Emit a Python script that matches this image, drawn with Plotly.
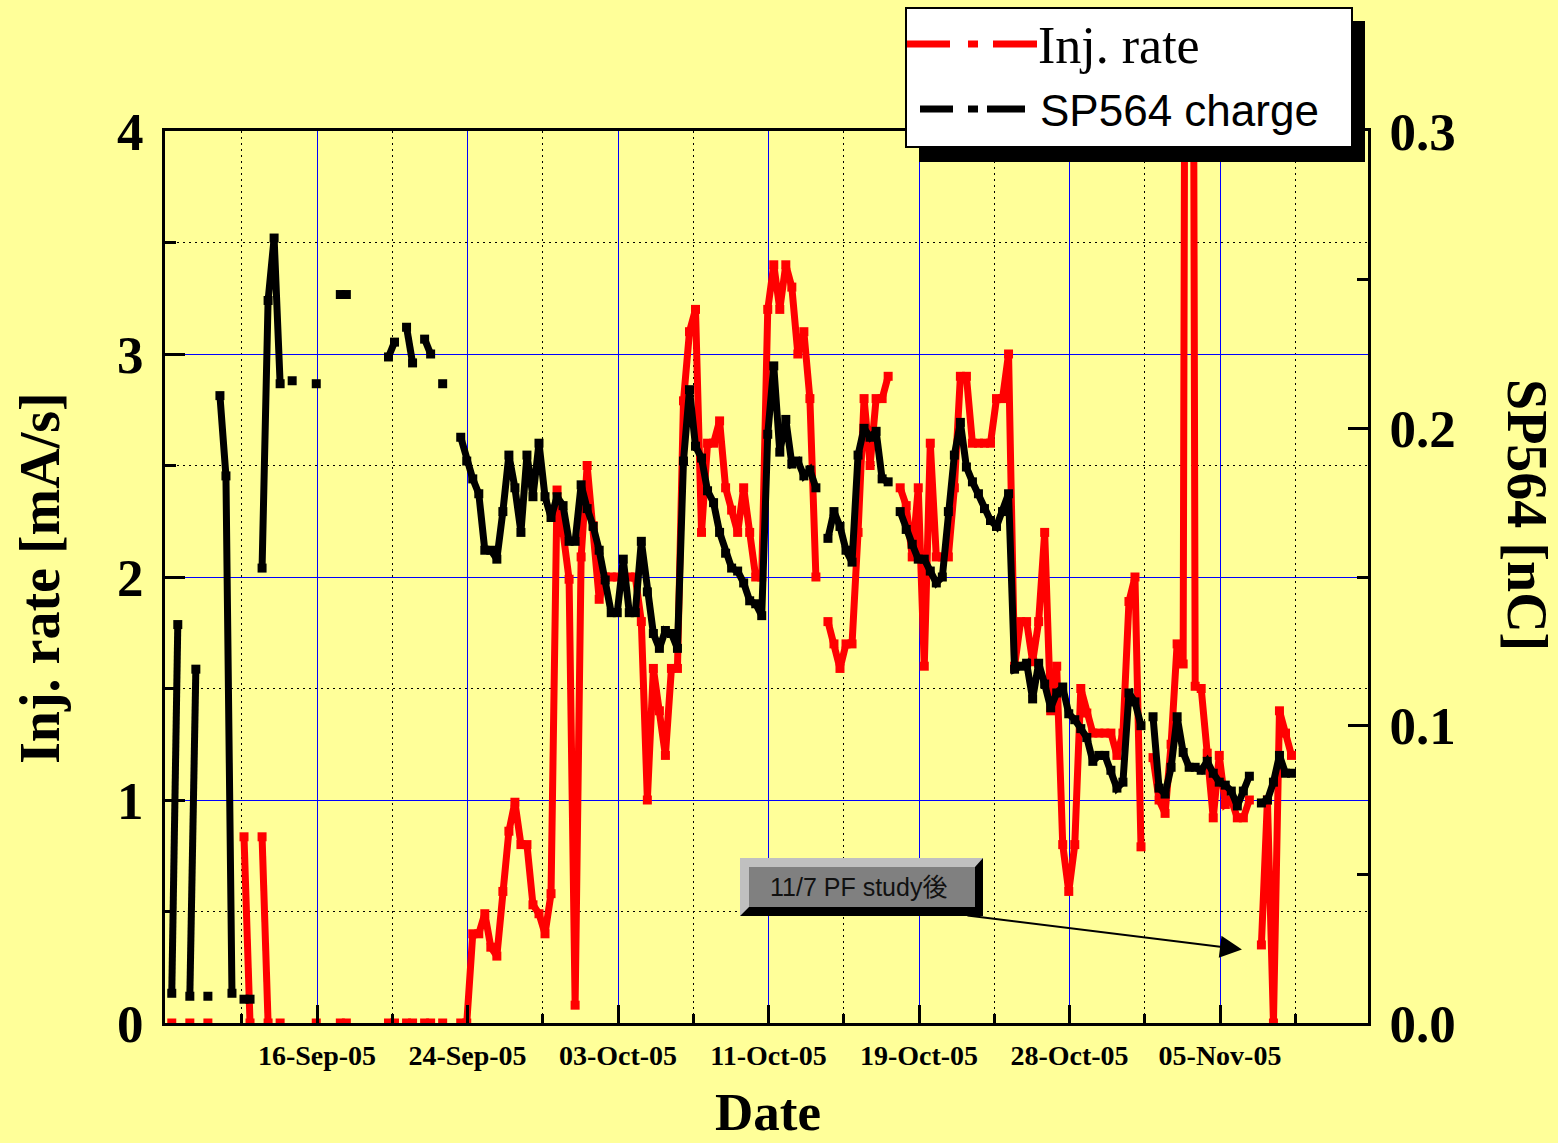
import pandas as pd
import plotly.graph_objects as go

N = None
# sampling times of the shift-by-shift log (every 8 h)
shift_times = pd.date_range("2005-09-08 00:00", periods=188, freq="8h")

# Injection rate [mA/s]
inj_rate = [
    N, 0, N, N, 0, N, N, 0, N, N, N, N,
    N, 0.835, 0, N, 0.835, 0, N, 0, N, N, N, N,
    N, 0, N, N, N, 0, 0, N, N, N, N, N,
    N, 0, 0, N, 0, 0, N, 0, 0, N, 0, N,
    N, 0, 0, 0.40, 0.40, 0.49, 0.34, 0.30, 0.59, 0.86, 0.99, 0.80,
    0.80, 0.53, 0.49, 0.40, 0.58, 2.39, 2.20, 1.99, 0.08, 2.09, 2.50, 2.23,
    1.90, 2.0, 2.0, 2.0, 2.0, 2.0, 2.0, 1.80, 1.0, 1.59, 1.40, 1.20,
    1.59, 1.59, 2.79, 3.10, 3.20, 2.20, 2.60, 2.60, 2.70, 2.40, 2.30, 2.20,
    2.40, 2.20, 2.0, 2.0, 3.20, 3.40, 3.20, 3.40, 3.30, 3.0, 3.10, 2.80,
    2.0, N, 1.80, 1.70, 1.59, 1.70, 1.70, 2.20, 2.80, 2.50, 2.80, 2.80,
    2.90, N, 2.40, 2.32, 2.09, 2.40, 1.60, 2.60, 2.09, 2.09, 2.09, 2.40,
    2.90, 2.90, 2.60, 2.60, 2.60, 2.60, 2.80, 2.80, 3.0, 1.60, 1.80, 1.80,
    1.62, 1.80, 2.20, 1.40, 1.60, 0.80, 0.59, 0.80, 1.50, 1.39, 1.30, 1.30,
    1.30, 1.30, 1.20, 1.30, 1.89, 2.0, 0.79, N, 1.19, 1.0, 0.94, 1.25,
    1.70, 1.61, 12.0, 1.51, 1.50, 1.21, 0.92, 1.20, 0.98, 1.0, 0.92, 0.92,
    1.0, N, 0.35, 1.0, 0.0, 1.40, 1.30, 1.20,
]

# SP564 charge [nC]
sp564_charge = [
    N, 0.010, 0.134, N, 0.009, 0.119, N, 0.009, N, 0.211, 0.184, 0.010,
    N, 0.008, 0.008, N, 0.153, 0.243, 0.264, 0.215, N, 0.216, N, N,
    N, 0.215, N, N, N, 0.245, 0.245, N, N, N, N, N,
    N, 0.224, 0.229, N, 0.234, 0.222, N, 0.230, 0.225, N, 0.215, N,
    N, 0.197, 0.189, 0.183, 0.178, 0.159, 0.159, 0.156, 0.172, 0.191, 0.180, 0.165,
    0.191, 0.177, 0.195, 0.177, 0.170, 0.177, 0.174, 0.162, 0.162, 0.181, 0.173, 0.167,
    0.159, 0.149, 0.138, 0.138, 0.156, 0.138, 0.138, 0.162, 0.145, 0.131, 0.126, 0.132,
    0.131, 0.126, 0.189, 0.213, 0.194, 0.190, 0.179, 0.175, 0.165, 0.158, 0.153, 0.152,
    0.148, 0.142, 0.141, 0.137, 0.198, 0.221, 0.192, 0.203, 0.188, 0.189, 0.184, 0.186,
    0.180, N, 0.163, 0.172, 0.167, 0.159, 0.155, 0.191, 0.200, 0.197, 0.199, 0.183,
    0.182, N, 0.172, 0.166, 0.161, 0.156, 0.156, 0.152, 0.148, 0.150, 0.172, 0.191,
    0.202, 0.187, 0.182, 0.178, 0.173, 0.169, 0.167, 0.172, 0.178, 0.119, 0.120, 0.121,
    0.109, 0.121, 0.114, 0.106, 0.111, 0.113, 0.104, 0.102, 0.099, 0.096, 0.088, 0.090,
    0.090, 0.085, 0.079, 0.081, 0.111, 0.108, 0.100, N, 0.103, 0.079, 0.077, 0.086,
    0.103, 0.091, 0.086, 0.086, 0.085, 0.088, 0.084, 0.081, 0.080, 0.078, 0.073, 0.078,
    0.083, N, 0.074, 0.075, 0.081, 0.090, 0.084, 0.084,
]

date_tick_vals = ["2005-09-16 09:00", "2005-09-24 17:00", "2005-10-03 01:00",
                  "2005-10-11 09:00", "2005-10-19 17:00", "2005-10-28 01:00",
                  "2005-11-05 09:00"]
date_tick_text = ["16-Sep-05", "24-Sep-05", "03-Oct-05", "11-Oct-05",
                  "19-Oct-05", "28-Oct-05", "05-Nov-05"]
date_minor_vals = ["2005-09-12 05:00", "2005-09-20 13:00", "2005-09-28 21:00",
                   "2005-10-07 05:00", "2005-10-15 13:00", "2005-10-23 21:00",
                   "2005-11-01 05:00", "2005-11-09 13:00"]
inj_ticks = [0, 1, 2, 3, 4]
sp_ticks = [0.0, 0.1, 0.2, 0.3]

series_names = ["Inj. rate", "SP564 charge"]
note_text = "11/7 PF study後"
note_point = ("2005-11-06 14:10", 0.33)

BG = "#FFFF99"
W, H = 1558, 1143
L, R, T, B = 165, 1368, 131, 1023


def xp(px):
    return (px - L) / (R - L)


def yp(py):
    return (B - py) / (B - T)


fig = go.Figure()
fig.add_trace(go.Scatter(
    x=shift_times, y=inj_rate, name=series_names[0], mode="lines+markers",
    line=dict(color="#FF0000", width=7), connectgaps=False,
    marker=dict(symbol="square", size=9, color="#FF0000"), yaxis="y",
))
fig.add_trace(go.Scatter(
    x=shift_times, y=sp564_charge, name=series_names[1], mode="lines+markers",
    line=dict(color="#000000", width=7), connectgaps=False,
    marker=dict(symbol="square", size=9, color="#000000"), yaxis="y2",
))

tick_font_big = dict(family="Liberation Serif", size=53, color="black", weight="bold")

fig.update_layout(
    width=W, height=H,
    margin=dict(l=L, r=W - R, t=T, b=H - B, pad=0),
    paper_bgcolor=BG, plot_bgcolor=BG,
    showlegend=False,
    font=dict(family="Liberation Serif", color="black"),
    xaxis=dict(
        type="date", range=["2005-09-07 23:00", "2005-11-13 13:40"],
        tickmode="array", tickvals=date_tick_vals, ticktext=date_tick_text,
        tickangle=0, ticks="inside", ticklen=18, tickwidth=3, tickcolor="black",
        showgrid=True, gridcolor="#0000FF", gridwidth=1,
        minor=dict(tickmode="array", tickvals=date_minor_vals, ticks="inside",
                   ticklen=9, tickwidth=3, tickcolor="black", showgrid=True,
                   gridcolor="black", gridwidth=1, griddash="2px,4px"),
        showline=True, linecolor="black", linewidth=3, mirror=True,
        zeroline=False, ticklabelstandoff=5,
        tickfont=dict(family="Liberation Serif", size=28, color="black", weight="bold"),
    ),
    yaxis=dict(
        range=[0, 4], tickmode="array", tickvals=inj_ticks,
        ticks="inside", ticklen=20, tickwidth=3, tickcolor="black",
        showgrid=True, gridcolor="#0000FF", gridwidth=1,
        minor=dict(dtick=0.5, tick0=0, ticks="inside", ticklen=11, tickwidth=3,
                   tickcolor="black", showgrid=True, gridcolor="black",
                   gridwidth=1, griddash="2px,4px"),
        showline=True, linecolor="black", linewidth=3, zeroline=False,
        tickfont=tick_font_big, ticklabelstandoff=8,
    ),
    yaxis2=dict(
        overlaying="y", side="right", range=[0, 0.3], tickmode="array",
        tickvals=sp_ticks, tickformat=".1f",
        ticks="inside", ticklen=20, tickwidth=3, tickcolor="black",
        showgrid=False, zeroline=False,
        minor=dict(dtick=0.05, tick0=0, ticks="inside", ticklen=11, tickwidth=3,
                   tickcolor="black", showgrid=False),
        showline=True, linecolor="black", linewidth=3,
        tickfont=tick_font_big, ticklabelstandoff=8,
    ),
)

shapes = []
# legend box with drop shadow
shapes.append(dict(type="rect", xref="paper", yref="paper",
                   x0=xp(919), x1=xp(1365), y0=yp(162), y1=yp(21),
                   fillcolor="black", line=dict(width=0)))
shapes.append(dict(type="rect", xref="paper", yref="paper",
                   x0=xp(906), x1=xp(1352), y0=yp(147), y1=yp(8),
                   fillcolor="white", line=dict(color="black", width=2)))
for (a, b) in [(907, 950), (968, 978), (993, 1037)]:
    shapes.append(dict(type="line", xref="paper", yref="paper",
                       x0=xp(a), x1=xp(b), y0=yp(44), y1=yp(44),
                       line=dict(color="#FF0000", width=7)))
for (a, b) in [(920, 953), (968, 978), (987, 1025)]:
    shapes.append(dict(type="line", xref="paper", yref="paper",
                       x0=xp(a), x1=xp(b), y0=yp(109), y1=yp(109),
                       line=dict(color="black", width=7)))
# bevelled note box
shapes.append(dict(type="rect", xref="paper", yref="paper",
                   x0=xp(740), x1=xp(983), y0=yp(916), y1=yp(858),
                   fillcolor="black", line=dict(width=0)))
bevel = "M {},{} L {},{} L {},{} L {},{} L {},{} L {},{} Z".format(
    xp(740), yp(858), xp(983), yp(858), xp(975), yp(867),
    xp(749), yp(867), xp(749), yp(907), xp(740), yp(916))
shapes.append(dict(type="path", xref="paper", yref="paper", path=bevel,
                   fillcolor="#C0C0C0", line=dict(width=0)))
shapes.append(dict(type="rect", xref="paper", yref="paper",
                   x0=xp(749), x1=xp(975), y0=yp(907), y1=yp(867),
                   fillcolor="#808080", line=dict(width=0)))
fig.update_layout(shapes=shapes)

ann = []
ann.append(dict(xref="paper", yref="paper", x=xp(1036), y=yp(46),
                xanchor="left", yanchor="middle", showarrow=False,
                text=series_names[0],
                font=dict(family="Liberation Serif", size=52, color="black")))
ann.append(dict(xref="paper", yref="paper", x=xp(1038), y=yp(110),
                xanchor="left", yanchor="middle", showarrow=False,
                text=series_names[1],
                font=dict(family="Liberation Sans", size=44, color="black")))
ann.append(dict(xref="paper", yref="paper", x=xp(858), y=yp(887),
                xanchor="center", yanchor="middle", showarrow=False,
                text=note_text,
                font=dict(family="Liberation Sans, Noto Sans CJK JP", size=25, color="#111111")))
ann.append(dict(xref="x", yref="y", x=note_point[0], y=note_point[1],
                text="", showarrow=True, ax=966 - 1242, ay=915 - 949,
                arrowhead=2, arrowsize=2.2, arrowwidth=2, arrowcolor="black",
                standoff=0))
ann.append(dict(xref="paper", yref="paper", x=xp(40), y=yp(578),
                xanchor="center", yanchor="middle", showarrow=False,
                text="Inj. rate [mA/s]", textangle=-90,
                font=dict(family="Liberation Serif", size=56, color="black", weight="bold")))
ann.append(dict(xref="paper", yref="paper", x=xp(1527), y=yp(515),
                xanchor="center", yanchor="middle", showarrow=False,
                text="SP564 [nC]", textangle=90,
                font=dict(family="Liberation Serif", size=56, color="black", weight="bold")))
ann.append(dict(xref="paper", yref="paper", x=xp(768), y=yp(1143),
                xanchor="center", yanchor="bottom", showarrow=False,
                text="Date",
                font=dict(family="Liberation Serif", size=53, color="black", weight="bold")))
fig.update_layout(annotations=ann)

fig.write_html("out.html", config={"displayModeBar": False},
               post_script="document.body.style.margin='0';document.body.style.overflow='hidden';")
